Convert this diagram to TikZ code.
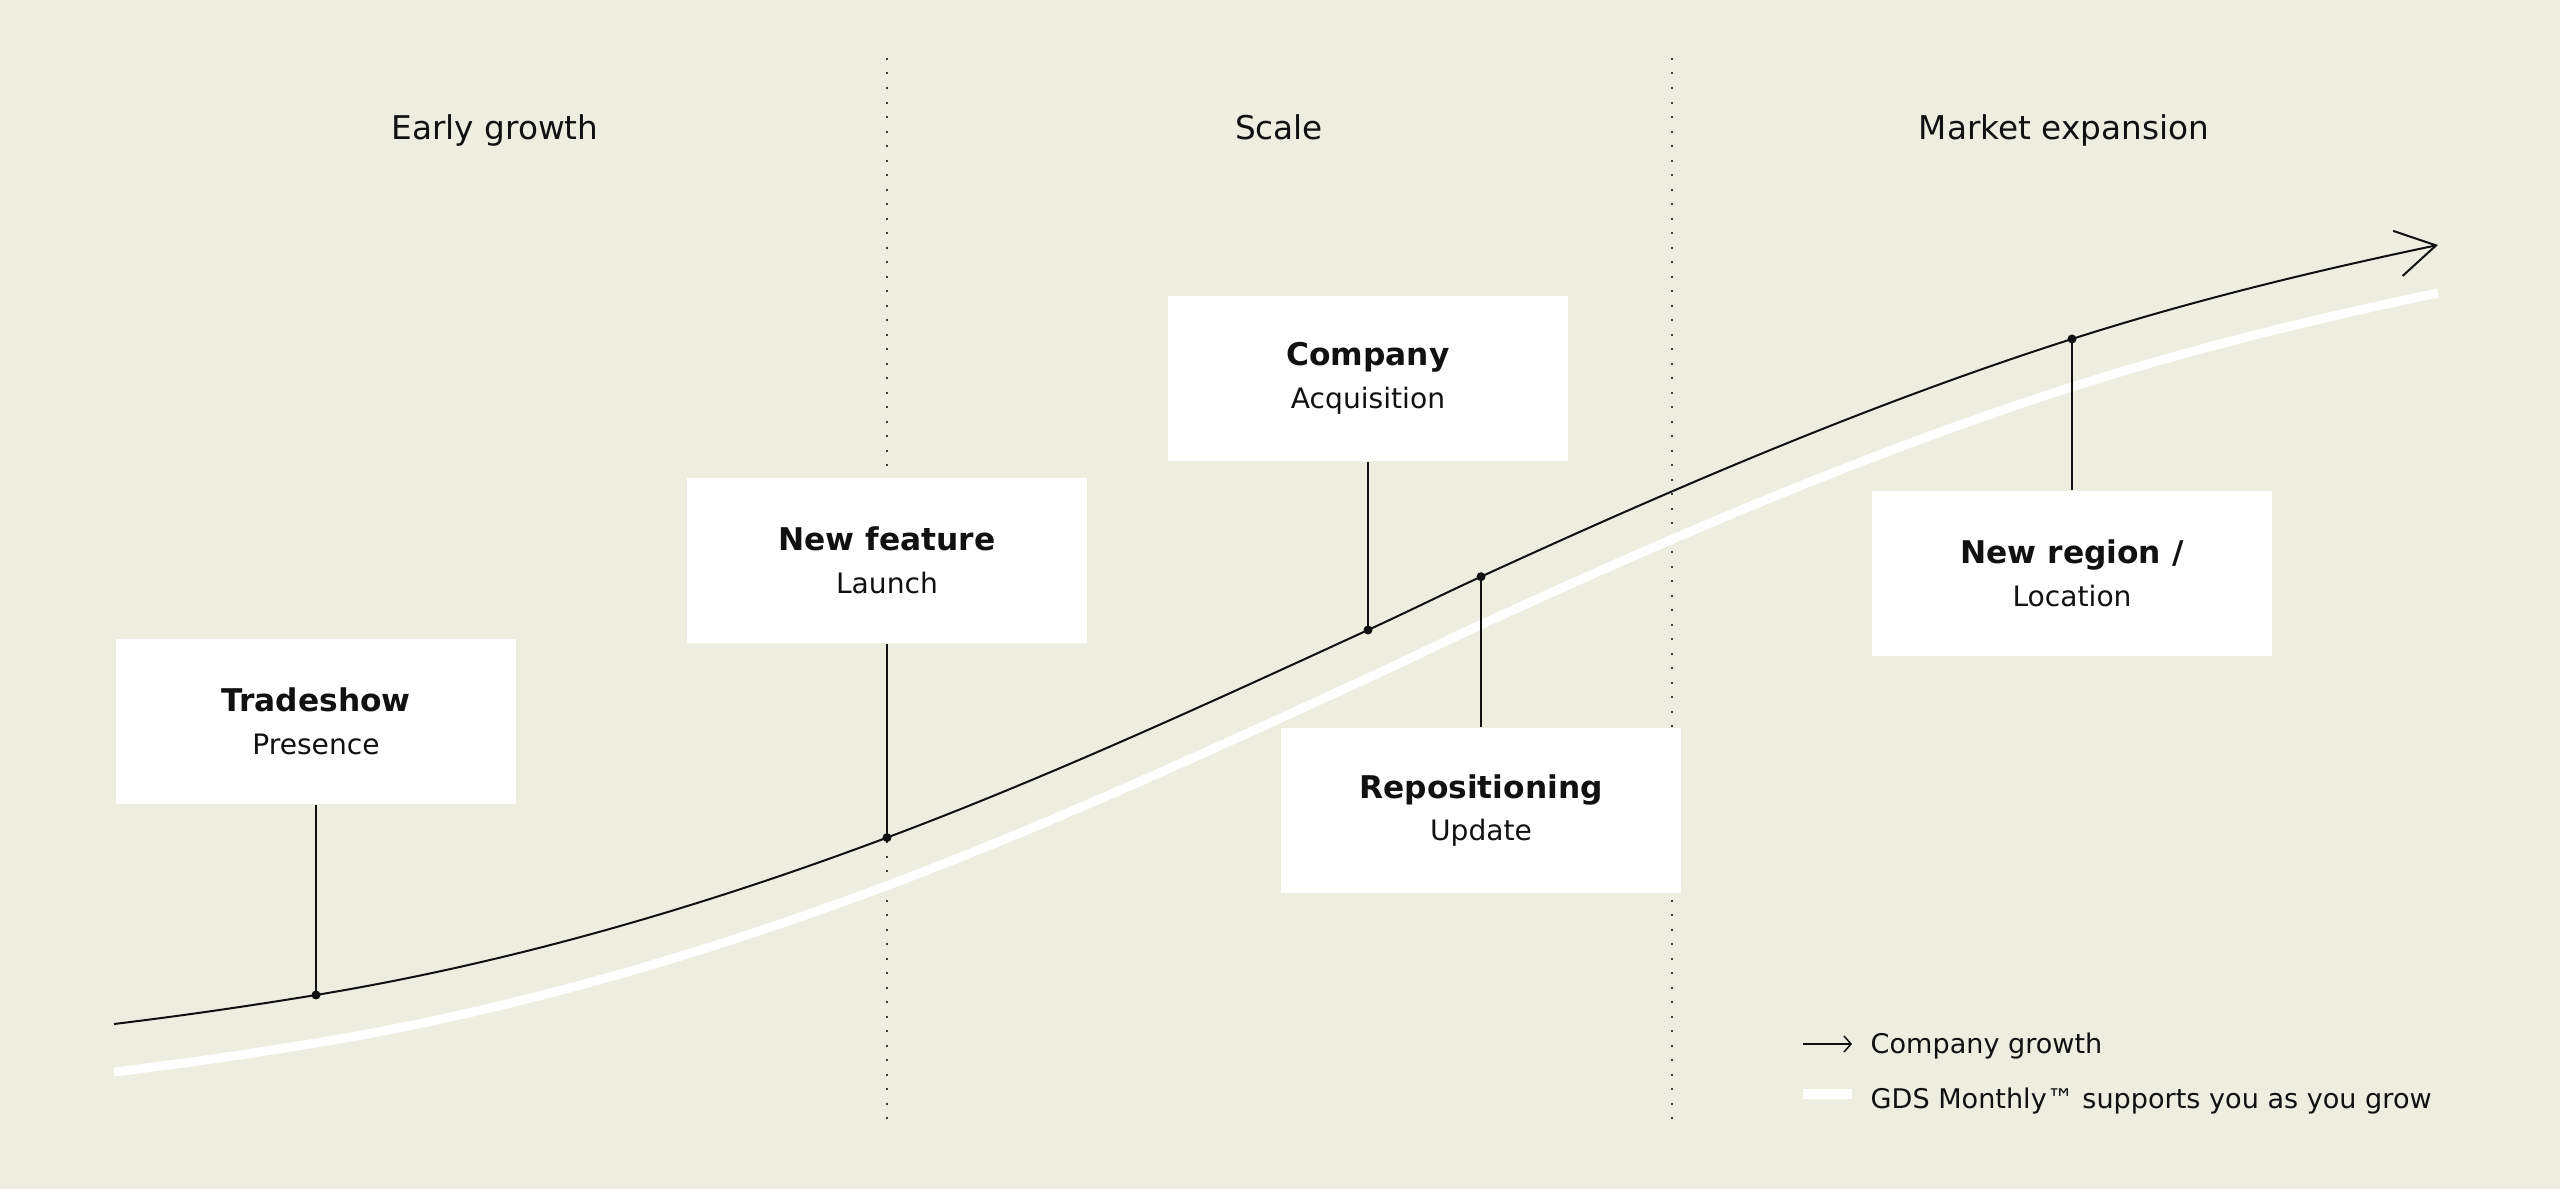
\documentclass[tikz,border=0pt]{standalone}
\usepackage{fontspec}
\setmainfont{DejaVu Sans}
\usetikzlibrary{arrows.meta}
\definecolor{paper}{HTML}{EDEDE0}
\definecolor{ink}{HTML}{111111}
\definecolor{dotgrey}{HTML}{3A3A3A}
\tikzset{
  stagebox/.style={
    rectangle, fill=white, draw=none,
    minimum width=4cm, minimum height=1.65cm,
    inner sep=0pt, align=center, text=ink,
    font=\fontsize{8}{12.2}\selectfont
  },
  phaselabel/.style={
    anchor=base, inner sep=0pt, text=ink,
    font=\fontsize{9.3}{11}\selectfont
  },
  keylabel/.style={
    anchor=base west, inner sep=0pt, text=ink,
    font=\fontsize{7.7}{9}\selectfont
  },
  phasesep/.style={
    draw=dotgrey, line width=0.02cm, dash pattern=on 0.02cm off 0.125cm
  },
  growthline/.style={
    draw=ink, line width=0.02cm,
    -{Straight Barb[length=0.39cm,width=0.46cm]}
  },
  supportline/.style={draw=white, line width=0.09cm},
  stem/.style={draw=ink, line width=0.02cm},
  milestone/.style={fill=ink},
}
\newcommand{\stagetitle}[1]{{\bfseries\fontsize{8.9}{12.2}\selectfont #1}}

\begin{document}
\begin{tikzpicture}[x=0.01cm, y=-0.01cm]
  \fill[paper] (0,0) rectangle (2560,1189);
  \useasboundingbox (0,0) rectangle (2560,1189);
  % phase separators
  \draw[phasesep] (887,58) -- (887,1130);
  \draw[phasesep] (1672,58) -- (1672,1130);
  % phase names
  \node[phaselabel] (early) at (495,140) {Early growth};
  \node[phaselabel] (scale) at (1279,140) {Scale};
  \node[phaselabel] (market) at (2064,140) {Market expansion};
  % points on the curve
  \coordinate (pstart) at (114,1024);
  \coordinate (ptrade) at (316,995);
  \coordinate (pfeature) at (887,837.6);
  \coordinate (pcompany) at (1368,630);
  \coordinate (prepos) at (1481,576.7);
  \coordinate (pregion) at (2072,339);
  \coordinate (pend) at (2438,245);
  % support curve (white), 48 lower than the growth curve
  \draw[supportline] (114,1072)
    .. controls (181.2,1063.9) and (248.5,1054.1) .. (316,1043)
    .. controls (506.1,1011.6) and (696.6,957.0) .. (887,885.6)
    .. controls (1047.3,825.5) and (1207.7,751.7) .. (1368,678)
    .. controls (1405.7,660.7) and (1443.3,642.0) .. (1481,624.7)
    .. controls (1678,534.1) and (1875,450.0) .. (2072,387)
    .. controls (2194,348.0) and (2316,318.6) .. (2438,293);
  % growth curve
  \draw[growthline] (pstart)
    .. controls (181.2,1015.9) and (248.5,1006.1) .. (ptrade)
    .. controls (506.1,963.6) and (696.6,909.0) .. (pfeature)
    .. controls (1047.3,777.5) and (1207.7,703.7) .. (pcompany)
    .. controls (1405.7,612.7) and (1443.3,594.0) .. (prepos)
    .. controls (1678,486.1) and (1875,402.0) .. (pregion)
    .. controls (2194,300.0) and (2316,270.6) .. (pend);
  % milestone boxes
  \node[stagebox] (trade) at (316,721.5) {\stagetitle{Tradeshow}\\Presence};
  \node[stagebox] (feature) at (887,560.5) {\stagetitle{New feature}\\Launch};
  \node[stagebox] (company) at (1368,378.5) {\stagetitle{Company}\\Acquisition};
  \node[stagebox] (repos) at (1481,810.5) {\stagetitle{Repositioning}\\Update};
  \node[stagebox] (region) at (2072,573.5) {\stagetitle{New region /}\\Location};
  \draw[stem] (trade.south) -- (ptrade);
  \draw[stem] (feature.south) -- (pfeature);
  \draw[stem] (company.south) -- (pcompany);
  \draw[stem] (repos.north) -- (prepos);
  \draw[stem] (region.north) -- (pregion);
  \foreach \p in {ptrade,pfeature,pcompany,prepos,pregion}
    \fill[milestone] (\p) circle (0.045cm);
  % legend
  \node[keylabel] (keygrowth) at (1870,1054) {Company growth};
  \node[keylabel] (keysupport) at (1870,1109) {GDS Monthly™ supports you as you grow};
  \coordinate (keya) at (1803,1044);
  \coordinate (keyb) at (1803,1094);
  \draw[ink, line width=0.015cm, -{Straight Barb[length=0.07cm,width=0.16cm]}] (keya) -- ++(49,0);
  \draw[supportline] (keyb) -- ++(49,0);
\end{tikzpicture}
\end{document}
